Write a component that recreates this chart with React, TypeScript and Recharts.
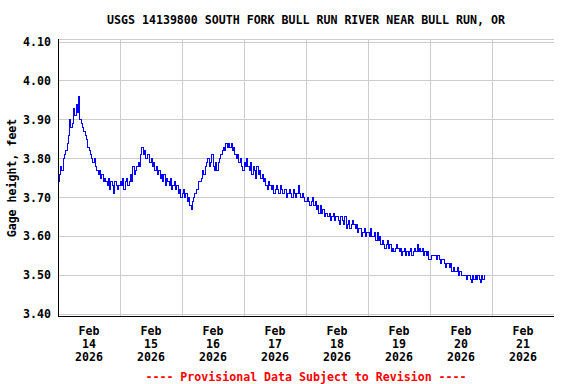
import {
  CartesianGrid,
  Line,
  LineChart,
  ReferenceLine,
  XAxis,
  YAxis,
} from "recharts";

// Gage height (ft), one reading every half hour starting Feb 14 00:00.
const feb14 = [
  3.74, 3.76, 3.78, 3.77, 3.8, 3.81, 3.82, 3.84, 3.86, 3.9, 3.88, 3.89,
  3.93, 3.91, 3.94, 3.92, 3.96, 3.9, 3.89, 3.88, 3.87, 3.86, 3.85, 3.83,
  3.82, 3.81, 3.8, 3.79, 3.8, 3.78, 3.77, 3.76, 3.77, 3.75, 3.76, 3.74,
  3.75, 3.74, 3.73, 3.75, 3.72, 3.74, 3.73, 3.71, 3.74, 3.73, 3.72, 3.73,
];
const feb15 = [
  3.74, 3.73, 3.75, 3.72, 3.74, 3.75, 3.73, 3.74, 3.76, 3.74, 3.78, 3.76,
  3.77, 3.78, 3.79, 3.78, 3.81, 3.83, 3.81, 3.82, 3.8, 3.81, 3.81, 3.79,
  3.8, 3.78, 3.79, 3.77, 3.78, 3.76, 3.77, 3.75, 3.76, 3.74, 3.76, 3.73,
  3.75, 3.74, 3.73, 3.75, 3.72, 3.73, 3.74, 3.72, 3.73, 3.71, 3.72, 3.7,
];
const feb16 = [
  3.71, 3.72, 3.7, 3.71, 3.69, 3.7, 3.68, 3.67, 3.69, 3.7, 3.71, 3.72,
  3.72, 3.74, 3.74, 3.75, 3.77, 3.76, 3.78, 3.79, 3.8, 3.78, 3.79, 3.81,
  3.78, 3.77, 3.79, 3.77, 3.79, 3.8, 3.81, 3.82, 3.83, 3.82, 3.84, 3.83,
  3.84, 3.83, 3.84, 3.82, 3.83, 3.81, 3.8, 3.81, 3.79, 3.8, 3.78, 3.77,
];
const feb17 = [
  3.79, 3.78, 3.8, 3.78, 3.77, 3.79, 3.76, 3.78, 3.77, 3.75, 3.78, 3.76,
  3.77, 3.75, 3.76, 3.74, 3.75, 3.73, 3.72, 3.74, 3.73, 3.72, 3.73, 3.71,
  3.72, 3.73, 3.72, 3.71, 3.73, 3.72, 3.71, 3.72, 3.72, 3.7, 3.71, 3.72,
  3.71, 3.7, 3.72, 3.71, 3.7, 3.71, 3.73, 3.71, 3.7, 3.71, 3.7, 3.69,
];
const feb18 = [
  3.69, 3.7, 3.69, 3.68, 3.69, 3.7, 3.68, 3.69, 3.67, 3.68, 3.66, 3.68,
  3.66, 3.67, 3.65, 3.66, 3.66, 3.65, 3.66, 3.64, 3.65, 3.66, 3.64, 3.65,
  3.65, 3.64, 3.63, 3.65, 3.64, 3.63, 3.65, 3.62, 3.63, 3.64, 3.62, 3.63,
  3.64, 3.63, 3.62, 3.63, 3.61, 3.62, 3.62, 3.6, 3.61, 3.62, 3.6, 3.61,
];
const feb19 = [
  3.61, 3.6, 3.62, 3.6, 3.6, 3.61, 3.59, 3.61, 3.59, 3.6, 3.58, 3.59,
  3.58, 3.57, 3.58, 3.59, 3.57, 3.58, 3.56, 3.57, 3.56, 3.57, 3.58, 3.57,
  3.56, 3.57, 3.55, 3.56, 3.57, 3.55, 3.56, 3.55, 3.56, 3.57, 3.55, 3.56,
  3.57, 3.56, 3.58, 3.56, 3.57, 3.56, 3.57, 3.55, 3.56, 3.55, 3.56, 3.54,
];
const feb20 = [
  3.54, 3.55, 3.55, 3.55, 3.55, 3.54, 3.55, 3.54, 3.53, 3.54, 3.54, 3.53,
  3.52, 3.53, 3.53, 3.52, 3.53, 3.51, 3.52, 3.51, 3.51, 3.52, 3.5, 3.51,
  3.5, 3.5, 3.5, 3.5, 3.49, 3.5, 3.5, 3.49, 3.48, 3.5, 3.49, 3.5,
  3.49, 3.5, 3.49, 3.48, 3.5, 3.49, 3.5,
];

const STEP_HOURS = 0.5;

// x axis is hours since Feb 14 00:00
const dayBreaks = [24, 48, 72, 96, 120, 144, 168];
const tickHours = [12, 36, 60, 84, 108, 132, 156, 180];
const tickMonths = ["Feb", "Feb", "Feb", "Feb", "Feb", "Feb", "Feb", "Feb"];
const tickDays = ["14", "15", "16", "17", "18", "19", "20", "21"];
const tickYears = ["2026", "2026", "2026", "2026", "2026", "2026", "2026", "2026"];
const yTicks = [3.4, 3.5, 3.6, 3.7, 3.8, 3.9, 4.0, 4.1];

const TITLE = "USGS 14139800 SOUTH FORK BULL RUN RIVER NEAR BULL RUN, OR";
const Y_LABEL = "Gage height, feet";
const FOOTER = "---- Provisional Data Subject to Revision ----";

const FONT = "'DejaVu Sans Mono', 'Liberation Mono', monospace";
const FS = 11.6;

const rows = [...feb14, ...feb15, ...feb16, ...feb17, ...feb18, ...feb19, ...feb20].map(
  (v, i) => ({ t: i * STEP_HOURS, h: v })
);

function DateTick(props: any) {
  const { x, y, payload } = props;
  const i = tickHours.indexOf(payload.value);
  if (i < 0) return null;
  return (
    <text
      x={x}
      y={y}
      textAnchor="middle"
      fill="#000"
      fontFamily={FONT}
      fontWeight="bold"
      fontSize={FS}
    >
      <tspan x={x} dy={19}>{tickMonths[i]}</tspan>
      <tspan x={x} dy={13}>{tickDays[i]}</tspan>
      <tspan x={x} dy={13}>{tickYears[i]}</tspan>
    </text>
  );
}

export default function App() {
  return (
    <div style={{ position: "absolute", left: 0, top: 0, width: 576, height: 384, background: "#fff" }}>
      <LineChart
        width={576}
        height={384}
        data={rows}
        margin={{ top: 39, right: 22, left: 0, bottom: 0 }}
      >
        <CartesianGrid vertical={false} stroke="#cccccc" shapeRendering="crispEdges" />
        {dayBreaks.map((d) => (
          <ReferenceLine key={d} x={d} stroke="#cccccc" shapeRendering="crispEdges" />
        ))}
        <XAxis
          dataKey="t"
          type="number"
          domain={[0, 192]}
          ticks={tickHours}
          interval={0}
          height={68}
          tickSize={0}
          tickMargin={0}
          tickLine={false}
          axisLine={{ stroke: "#000", shapeRendering: "crispEdges" }}
          tick={<DateTick />}
        />
        <XAxis
          xAxisId="top"
          orientation="top"
          type="number"
          domain={[0, 192]}
          height={0}
          tick={false}
          tickLine={false}
          axisLine={{ stroke: "#000", shapeRendering: "crispEdges" }}
        />
        <YAxis
          type="number"
          domain={[3.395, 4.108]}
          ticks={yTicks}
          interval={0}
          width={58}
          tickSize={0}
          tickMargin={7}
          tickLine={false}
          axisLine={{ stroke: "#000", shapeRendering: "crispEdges" }}
          tickFormatter={(v: number) => v.toFixed(2)}
          tick={{ fill: "#000", fontFamily: FONT, fontWeight: "bold", fontSize: FS }}
        />
        <YAxis
          yAxisId="right"
          orientation="right"
          type="number"
          domain={[3.395, 4.108]}
          width={0}
          tick={false}
          tickLine={false}
          axisLine={{ stroke: "#000", shapeRendering: "crispEdges" }}
        />
        <Line
          type="stepAfter"
          dataKey="h"
          stroke="#0000ff"
          strokeWidth={1}
          shapeRendering="crispEdges"
          dot={false}
          activeDot={false}
          isAnimationActive={false}
        />
        <text
          x={306}
          y={24}
          textAnchor="middle"
          fontFamily={FONT}
          fontWeight="bold"
          fontSize={FS}
          fill="#000"
        >
          {TITLE}
        </text>
        <text
          x={16}
          y={178}
          transform="rotate(-90 16 178)"
          textAnchor="middle"
          fontFamily={FONT}
          fontWeight="bold"
          fontSize={FS}
          fill="#000"
        >
          {Y_LABEL}
        </text>
        <text
          x={306}
          y={381}
          textAnchor="middle"
          fontFamily={FONT}
          fontWeight="bold"
          fontSize={FS}
          fill="#ff0000"
        >
          {FOOTER}
        </text>
      </LineChart>
    </div>
  );
}
